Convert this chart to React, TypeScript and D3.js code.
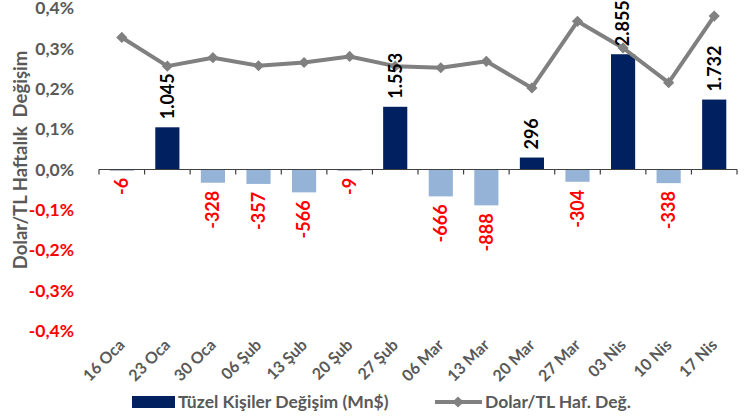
import React, { useEffect, useRef } from 'react';
import * as d3 from 'd3';

const categories = ['16 Oca', '23 Oca', '30 Oca', '06 Şub', '13 Şub', '20 Şub', '27 Şub', '06 Mar', '13 Mar', '20 Mar', '27 Mar', '03 Nis', '10 Nis', '17 Nis'];
const flows = [-6, 1045, -328, -357, -566, -9, 1553, -666, -888, 296, -304, 2855, -338, 1732];
const usdTry = [0.327, 0.256, 0.277, 0.257, 0.265, 0.28, 0.256, 0.252, 0.268, 0.202, 0.367, 0.301, 0.215, 0.38];
const pctTicks = [-0.4, -0.3, -0.2, -0.1, 0, 0.1, 0.2, 0.3, 0.4];
const barLabel = 'Tüzel Kişiler Değişim (Mn$)';
const lineLabel = 'Dolar/TL Haf. Değ.';
const yTitle = 'Dolar/TL Haftalık  Değişim';

const FONT = 'Lato, "Noto Sans", sans-serif';
const GRAY = '#595959';

const App = () => {
  const svgRef = useRef<SVGSVGElement>(null);

  useEffect(() => {
    const svg = d3.select(svgRef.current);
    svg.selectAll('*').remove();

    const x = d3.scaleBand().domain(categories).range([99, 737]).padding(0);
    const y = d3.scaleLinear().domain([-0.4, 0.4]).range([331, 8]);
    // hidden secondary axis for the Mn$ bars
    const yBar = d3.scaleLinear().domain([-4000, 4000]).range([331, 8]);
    const bw = x.bandwidth() * 0.53;
    const cx = (c: string) => x(c)! + x.bandwidth() / 2;

    // y tick labels
    svg.append('g')
      .selectAll('text')
      .data(pctTicks)
      .enter()
      .append('text')
      .attr('x', 74)
      .attr('y', d => y(d))
      .attr('dy', '0.35em')
      .attr('text-anchor', 'end')
      .attr('font-family', FONT)
      .attr('font-weight', 'bold')
      .attr('font-size', 17.5)
      .attr('fill', d => (d < 0 ? '#FF0000' : GRAY))
      .text(d => d3.format('.1f')(d).replace('.', ',').replace('−', '-') + '%');

    // y title
    svg.append('text')
      .attr('transform', `translate(21,${160}) rotate(-90)`)
      .attr('text-anchor', 'middle')
      .attr('dy', '0.35em')
      .attr('font-family', FONT)
      .attr('font-weight', 'bold')
      .attr('font-size', 18.5)
      .attr('fill', GRAY)
      .style('white-space', 'pre')
      .text(yTitle);

    // bars
    svg.append('g')
      .selectAll('rect')
      .data(flows)
      .enter()
      .append('rect')
      .attr('x', (d, i) => cx(categories[i]) - bw / 2)
      .attr('y', d => Math.min(yBar(d), yBar(0)))
      .attr('width', bw)
      .attr('height', d => Math.max(Math.abs(yBar(d) - yBar(0)), 0.8))
      .attr('fill', d => (d >= 0 || d > -50 ? '#002060' : '#95B3D7'));

    // x axis line and ticks
    const axis = svg.append('g').attr('transform', `translate(0,${y(0)})`);
    axis.append('line')
      .attr('x1', 99).attr('x2', 737)
      .attr('stroke', '#404040').attr('stroke-width', 1.2);
    axis.selectAll('line.tick')
      .data(d3.range(categories.length + 1))
      .enter()
      .append('line')
      .attr('class', 'tick')
      .attr('x1', i => 99 + i * x.step()).attr('x2', i => 99 + i * x.step())
      .attr('y1', 0).attr('y2', 5)
      .attr('stroke', '#404040').attr('stroke-width', 1.2);

    // line series
    const line = d3.line<number>()
      .x((d, i) => cx(categories[i]))
      .y(d => y(d));
    svg.append('path')
      .datum(usdTry)
      .attr('d', line)
      .attr('fill', 'none')
      .attr('stroke', '#808080')
      .attr('stroke-width', 4)
      .attr('stroke-linejoin', 'round');
    svg.append('g')
      .selectAll('path')
      .data(usdTry)
      .enter()
      .append('path')
      .attr('d', d3.symbol().type(d3.symbolDiamond2).size(80))
      .attr('transform', (d, i) => `translate(${cx(categories[i])},${y(d)})`)
      .attr('fill', '#808080');

    // data labels
    svg.append('g')
      .selectAll('text')
      .data(flows)
      .enter()
      .append('text')
      .attr('transform', (d, i) => {
        const yy = d >= 0 ? yBar(d) - 8 : yBar(d) + 8;
        return `translate(${cx(categories[i])},${yy}) rotate(-90)`;
      })
      .attr('text-anchor', d => (d >= 0 ? 'start' : 'end'))
      .attr('dy', '0.35em')
      .attr('font-family', FONT)
      .attr('font-weight', 'bold')
      .attr('font-size', 18)
      .attr('fill', d => (d >= 0 ? '#000000' : '#FF0000'))
      .text(d => (d < 0 ? '-' : '') + d3.format(',')(Math.abs(d)).replace(/,/g, '.'));

    // x labels
    svg.append('g')
      .selectAll('text')
      .data(categories)
      .enter()
      .append('text')
      .attr('transform', d => `translate(${cx(d) + 4},${346}) rotate(-45)`)
      .attr('text-anchor', 'end')
      .attr('font-family', FONT)
      .attr('font-weight', 'bold')
      .attr('font-size', 16)
      .attr('fill', GRAY)
      .text(d => d);

    // legend
    const lg = svg.append('g');
    lg.append('rect')
      .attr('x', 132).attr('y', 396).attr('width', 43).attr('height', 12)
      .attr('fill', '#002060');
    lg.append('text')
      .attr('x', 178).attr('y', 402).attr('dy', '0.35em')
      .attr('font-family', FONT).attr('font-weight', 'bold').attr('font-size', 17.5)
      .attr('fill', GRAY)
      .text(barLabel);
    lg.append('line')
      .attr('x1', 435).attr('x2', 482).attr('y1', 402).attr('y2', 402)
      .attr('stroke', '#808080').attr('stroke-width', 4);
    lg.append('path')
      .attr('d', d3.symbol().type(d3.symbolDiamond2).size(80))
      .attr('transform', 'translate(458,402)')
      .attr('fill', '#808080');
    lg.append('text')
      .attr('x', 485).attr('y', 402).attr('dy', '0.35em')
      .attr('font-family', FONT).attr('font-weight', 'bold').attr('font-size', 17.5)
      .attr('fill', GRAY)
      .text(lineLabel);
  }, []);

  return (
    <svg
      ref={svgRef}
      width={747}
      height={419}
      style={{ position: 'absolute', left: 0, top: 0, background: '#fff' }}
    />
  );
};

export default App;
